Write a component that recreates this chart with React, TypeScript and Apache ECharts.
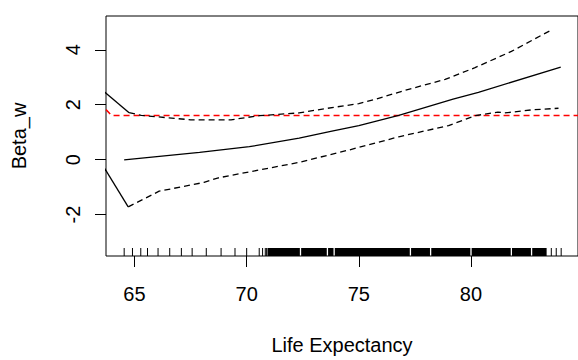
import React, { useEffect, useRef } from "react";
import * as echarts from "echarts";

// x = life expectancy, y = Beta_w
const meanCurve: number[][] = [
  [64.54, -0.01], [67.9, 0.26], [70.12, 0.47], [72.34, 0.78], [73.8, 1.04],
  [75.0, 1.24], [76.78, 1.61], [79.2, 2.2], [80.33, 2.45], [84.0, 3.37],
];
const upperBand: number[][] = [
  [64.76, 1.71], [65.3, 1.61], [67.5, 1.45], [69.3, 1.45], [70.56, 1.6],
  [72.34, 1.7], [73.45, 1.85], [75.0, 2.04], [75.75, 2.2], [77.22, 2.56],
  [78.85, 2.92], [80.18, 3.35], [81.8, 3.94], [83.65, 4.75],
];
const lowerBand: number[][] = [
  [64.72, -1.72], [66.1, -1.15], [68.1, -0.83], [68.7, -0.67], [72.34, -0.1],
  [74.56, 0.35], [76.78, 0.83], [79.0, 1.24], [80.18, 1.6], [81.2, 1.73],
  [81.5, 1.7], [82.7, 1.81], [83.9, 1.87],
];
const upperLead: number[][] = [[63.6, 2.51], [64.76, 1.71]];
const lowerLead: number[][] = [[63.6, -0.23], [64.72, -1.72]];
const globalLine: number[][] = [[63.73, 1.82], [63.98, 1.61], [85.0, 1.61]];

const rugSparse: number[] = [
  64.54, 64.91, 65.28, 65.58, 66.05, 66.57, 67.09, 67.57, 68.2, 68.86, 69.48,
  70.0, 70.56, 70.71, 70.83, 70.89, 83.58, 83.8, 84.02,
];
const rugDense: number[] = [
  71.0, 71.1, 71.2, 71.3, 71.4, 71.5, 71.6, 71.7, 71.8, 71.9,
  72.0, 72.1, 72.2, 72.3, 72.5, 72.6, 72.7, 72.8, 72.9,
  73.0, 73.1, 73.2, 73.3, 73.4, 73.5, 73.7, 73.8,
  74.0, 74.1, 74.2, 74.3, 74.4, 74.5, 74.6, 74.7, 74.8, 74.9,
  75.0, 75.1, 75.2, 75.3, 75.4, 75.5, 75.6, 75.7, 75.8, 75.9,
  76.0, 76.1, 76.2, 76.3, 76.4, 76.5, 76.6, 76.7, 76.8, 76.9,
  77.0, 77.1, 77.2, 77.4, 77.5, 77.6, 77.7, 77.8, 77.9,
  78.0, 78.1, 78.3, 78.4, 78.5, 78.6, 78.7, 78.8, 78.9,
  79.0, 79.1, 79.2, 79.3, 79.4, 79.5, 79.6, 79.7, 79.8, 79.9,
  80.1, 80.2, 80.3, 80.4, 80.5, 80.6, 80.7, 80.8, 80.9,
  81.0, 81.1, 81.2, 81.3, 81.4, 81.5, 81.6, 81.7, 81.9,
  82.0, 82.1, 82.2, 82.3, 82.4, 82.5, 82.6, 82.8, 82.9,
  83.0, 83.1, 83.2, 83.3,
];

const xTicks: number[] = [65, 70, 75, 80];
const yTicks: number[] = [-2, 0, 2, 4];

const X_MIN = 63.73;
const X_MAX = 84.77;
const Y_MIN = -3.51;
const Y_MAX = 5.23;

const FONT = "'Liberation Sans', Arial, Helvetica, sans-serif";

function rugSeries(values: number[], width: number) {
  return {
    type: "custom",
    data: values.map((v) => [v]),
    encode: { x: 0 },
    silent: true,
    renderItem: (_params: any, api: any) => {
      const p = api.coord([api.value(0), Y_MIN]);
      return {
        type: "rect",
        shape: { x: p[0] - width / 2, y: p[1] - 8, width: width, height: 8 },
        style: { fill: "#000", stroke: null },
      };
    },
  };
}

export default function App() {
  const ref = useRef<HTMLDivElement>(null);
  useEffect(() => {
    if (!ref.current) return;
    const chart = echarts.init(ref.current, undefined, { renderer: "svg" });
    const lineBase = { type: "line", showSymbol: false, symbol: "none", silent: true, clip: true };
    chart.setOption({
      animation: false,
      backgroundColor: "#fff",
      grid: {
        left: 106, top: 16, right: -2, bottom: 101,
        show: true, borderColor: "#000", borderWidth: 1, backgroundColor: "transparent",
      },
      xAxis: {
        type: "value", min: X_MIN, max: X_MAX,
        name: "Life Expectancy", nameLocation: "middle", nameGap: 79,
        nameTextStyle: { fontFamily: FONT, fontSize: 20, color: "#000" },
        axisLine: { show: false, onZero: false },
        splitLine: { show: false },
        axisTick: { show: true, length: 11, customValues: xTicks, lineStyle: { color: "#000", width: 1 } },
        axisLabel: { customValues: xTicks, margin: 28, fontFamily: FONT, fontSize: 20, color: "#000" },
      },
      yAxis: {
        type: "value", min: Y_MIN, max: Y_MAX,
        name: "Beta_w", nameLocation: "middle", nameGap: 77,
        nameTextStyle: { fontFamily: FONT, fontSize: 20, color: "#000" },
        axisLine: { show: false, onZero: false },
        splitLine: { show: false },
        axisTick: { show: true, length: 11, customValues: yTicks, lineStyle: { color: "#000", width: 1 } },
        axisLabel: { customValues: yTicks, rotate: 90, margin: 23, fontFamily: FONT, fontSize: 20, color: "#000" },
      },
      series: [
        { ...lineBase, data: globalLine, lineStyle: { color: "#ff0000", width: 1.5, type: [6, 4] } },
        { ...lineBase, data: meanCurve, lineStyle: { color: "#000", width: 1.3 } },
        { ...lineBase, data: upperBand, lineStyle: { color: "#000", width: 1.3, type: [6, 4] } },
        { ...lineBase, data: lowerBand, lineStyle: { color: "#000", width: 1.3, type: [6, 4] } },
        { ...lineBase, data: upperLead, lineStyle: { color: "#000", width: 1.3 } },
        { ...lineBase, data: lowerLead, lineStyle: { color: "#000", width: 1.3 } },
        rugSeries(rugSparse, 1),
        rugSeries(rugDense, 3.2),
      ],
    });
    return () => chart.dispose();
  }, []);
  return (
    <div
      ref={ref}
      style={{ position: "fixed", left: 0, top: 0, width: 578, height: 360 }}
    />
  );
}
